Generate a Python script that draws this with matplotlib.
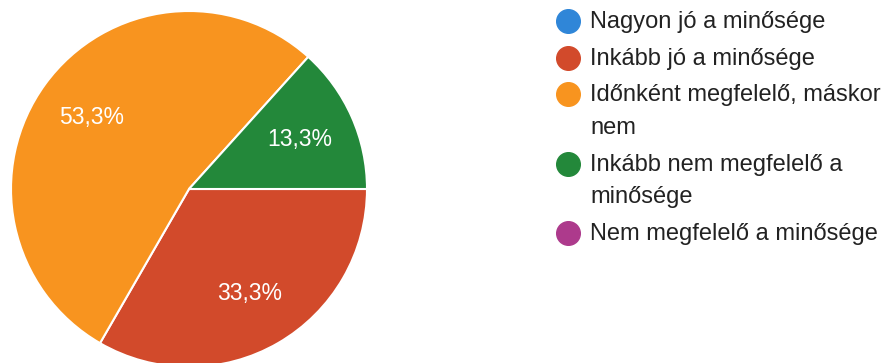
import matplotlib.pyplot as plt

# survey answers and their share of responses (%)
labels = ["Nagyon jó a minősége",
          "Inkább jó a minősége",
          "Időnként megfelelő, máskor\nnem",
          "Inkább nem megfelelő a\nminősége",
          "Nem megfelelő a minősége"]
shares = [0.0, 33.3, 53.3, 13.3, 0.0]
colors = ["#2f86d8", "#d24a2b", "#f8941f", "#23883a", "#ad3a8c"]

plt.rcParams['font.family'] = ['Liberation Sans', 'DejaVu Sans']

fig = plt.figure(figsize=(8.88, 3.63), dpi=100)
W, H = 888, 363

# pie axes: centre at (189, 189) px from top-left, radius 178 px
r = 178
cx, cy = 189, H - 189
ax = fig.add_axes([(cx - r) / W, (cy - r) / H, 2 * r / W, 2 * r / H])

vals = [v for v in shares if v > 0]
cols = [c for v, c in zip(shares, colors) if v > 0]
total = sum(vals)
wedges, texts, autotexts = ax.pie(
    vals, colors=cols, startangle=0, counterclock=False,
    autopct=lambda p: f"{p * total / 100:.1f}%".replace(".", ","),
    pctdistance=0.68,
    wedgeprops=dict(edgecolor="white", linewidth=1.5),
    textprops=dict(color="white", fontsize=16.5))
ax.set_xlim(-1, 1)
ax.set_ylim(-1, 1)
ax.set_axis_off()

# legend drawn on an overlay in pixel coordinates
lg = fig.add_axes([0, 0, 1, 1])
lg.set_xlim(0, W)
lg.set_ylim(H, 0)
lg.set_axis_off()
lg.patch.set_alpha(0)

y = 21
for lab, col in zip(labels, colors):
    lg.plot(568, y, "o", ms=17, color=col, mec=col)
    for i, line in enumerate(lab.split("\n")):
        lg.text(590, y + 33 * i + 7, line, fontsize=17, color="#222222",
                va="baseline")
    y += 33 * lab.count("\n") + 36.5

fig.savefig("out.png", dpi=100)
